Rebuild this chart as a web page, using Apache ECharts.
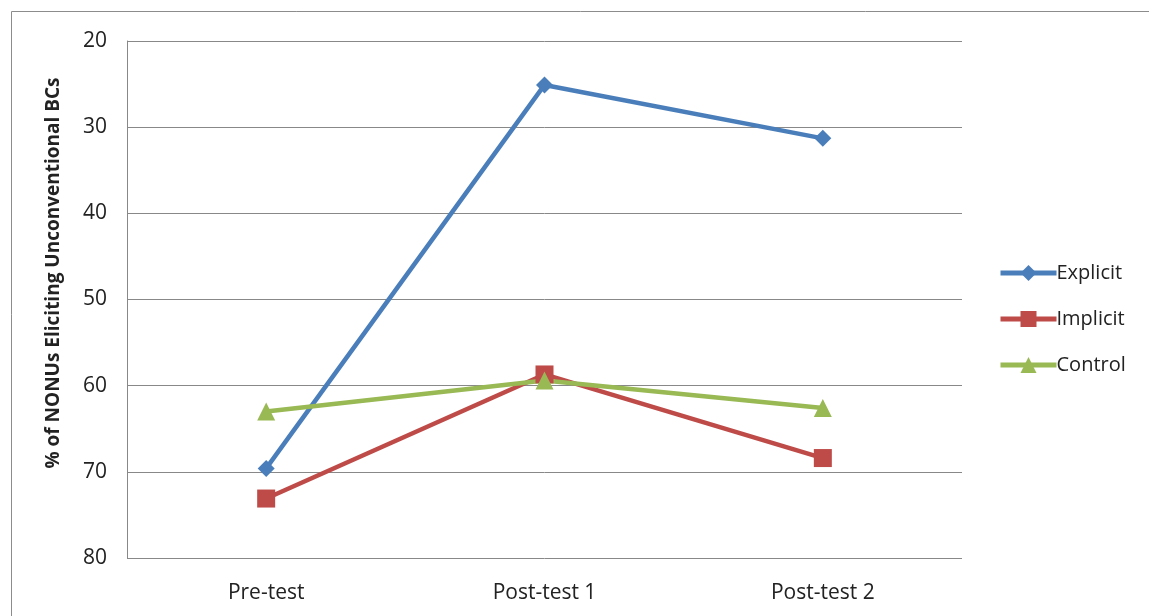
<!DOCTYPE html>
<html>
<head>
<meta charset="utf-8">
<script src="https://cdn.jsdelivr.net/npm/echarts@6/dist/echarts.min.js"></script>
<style>
  html, body { margin: 0; padding: 0; background: #fff; }
  #chart { width: 1149px; height: 616px; }
</style>
</head>
<body>
<div id="chart"></div>
<script>
// Test phases along the x axis
const phases = ['Pre-test', 'Post-test 1', 'Post-test 2'];

// % of NONUs eliciting unconventional BCs, per group
const explicitValues = [69.6, 25.1, 31.3];
const implicitValues = [73.1, 58.7, 68.4];
const controlValues = [63.0, 59.4, 62.6];

// Y axis range (drawn inverted: 20 at the top)
const yMin = 20;
const yMax = 80;
const yStep = 10;
const yTitle = '% of NONUs Eliciting Unconventional BCs';

const FONT = '"Open Sans", "Liberation Sans", sans-serif';
const BLUE = '#4a7ebb';
const RED = '#be4b48';
const GREEN = '#98b954';

const chart = echarts.init(document.getElementById('chart'), null, { renderer: 'canvas' });

function lineSeries(name, data, color, symbol, size) {
  return {
    name: name,
    type: 'line',
    data: data,
    symbol: symbol,
    symbolSize: size,
    showAllSymbol: true,
    lineStyle: { color: color, width: 4.5 },
    itemStyle: { color: color },
    emphasis: { disabled: true },
    z: 3
  };
}

chart.setOption({
  animation: false,
  backgroundColor: '#fff',
  textStyle: { fontFamily: FONT },
  graphic: [{
    type: 'rect',
    left: 9, top: 9,
    shape: { width: 1160, height: 640 },
    style: { fill: 'none', stroke: '#8c8c8c', lineWidth: 1 },
    silent: true
  }, {
    // rotated y-axis title, sitting a little above the axis centre
    type: 'text',
    x: 54, y: 273,
    rotation: Math.PI / 2,
    style: {
      text: yTitle,
      fontSize: 19,
      fontWeight: 'bold',
      fontFamily: FONT,
      fill: '#222',
      align: 'center',
      verticalAlign: 'middle'
    },
    silent: true
  }],
  grid: { left: 127, right: 187, top: 41, bottom: 58 },
  legend: {
    orient: 'vertical',
    left: 993,
    top: 258,
    itemWidth: 56,
    itemHeight: 20,
    itemGap: 26,
    lineStyle: { width: 5 },
    textStyle: { fontSize: 20, color: '#222', fontFamily: FONT, padding: [0, 0, 0, -5] },
    data: ['Explicit', 'Implicit', 'Control']
  },
  xAxis: {
    type: 'category',
    data: phases,
    boundaryGap: true,
    axisLine: { show: false, onZero: false },
    axisTick: { show: false },
    axisLabel: { fontSize: 21, color: '#222', margin: 25, fontFamily: FONT }
  },
  yAxis: {
    type: 'value',
    inverse: true,
    min: yMin,
    max: yMax,
    interval: yStep,
    axisLine: { show: true, lineStyle: { color: '#888', width: 1 } },
    axisTick: { show: false },
    axisLabel: { fontSize: 21, color: '#222', margin: 20, fontFamily: FONT },
    splitLine: { show: true, lineStyle: { color: '#888', width: 1 } }
  },
  series: [
    lineSeries('Explicit', explicitValues, BLUE, 'diamond', 17),
    lineSeries('Implicit', implicitValues, RED, 'rect', 18),
    lineSeries('Control', controlValues, GREEN, 'triangle', 18)
  ]
});
</script>
</body>
</html>
